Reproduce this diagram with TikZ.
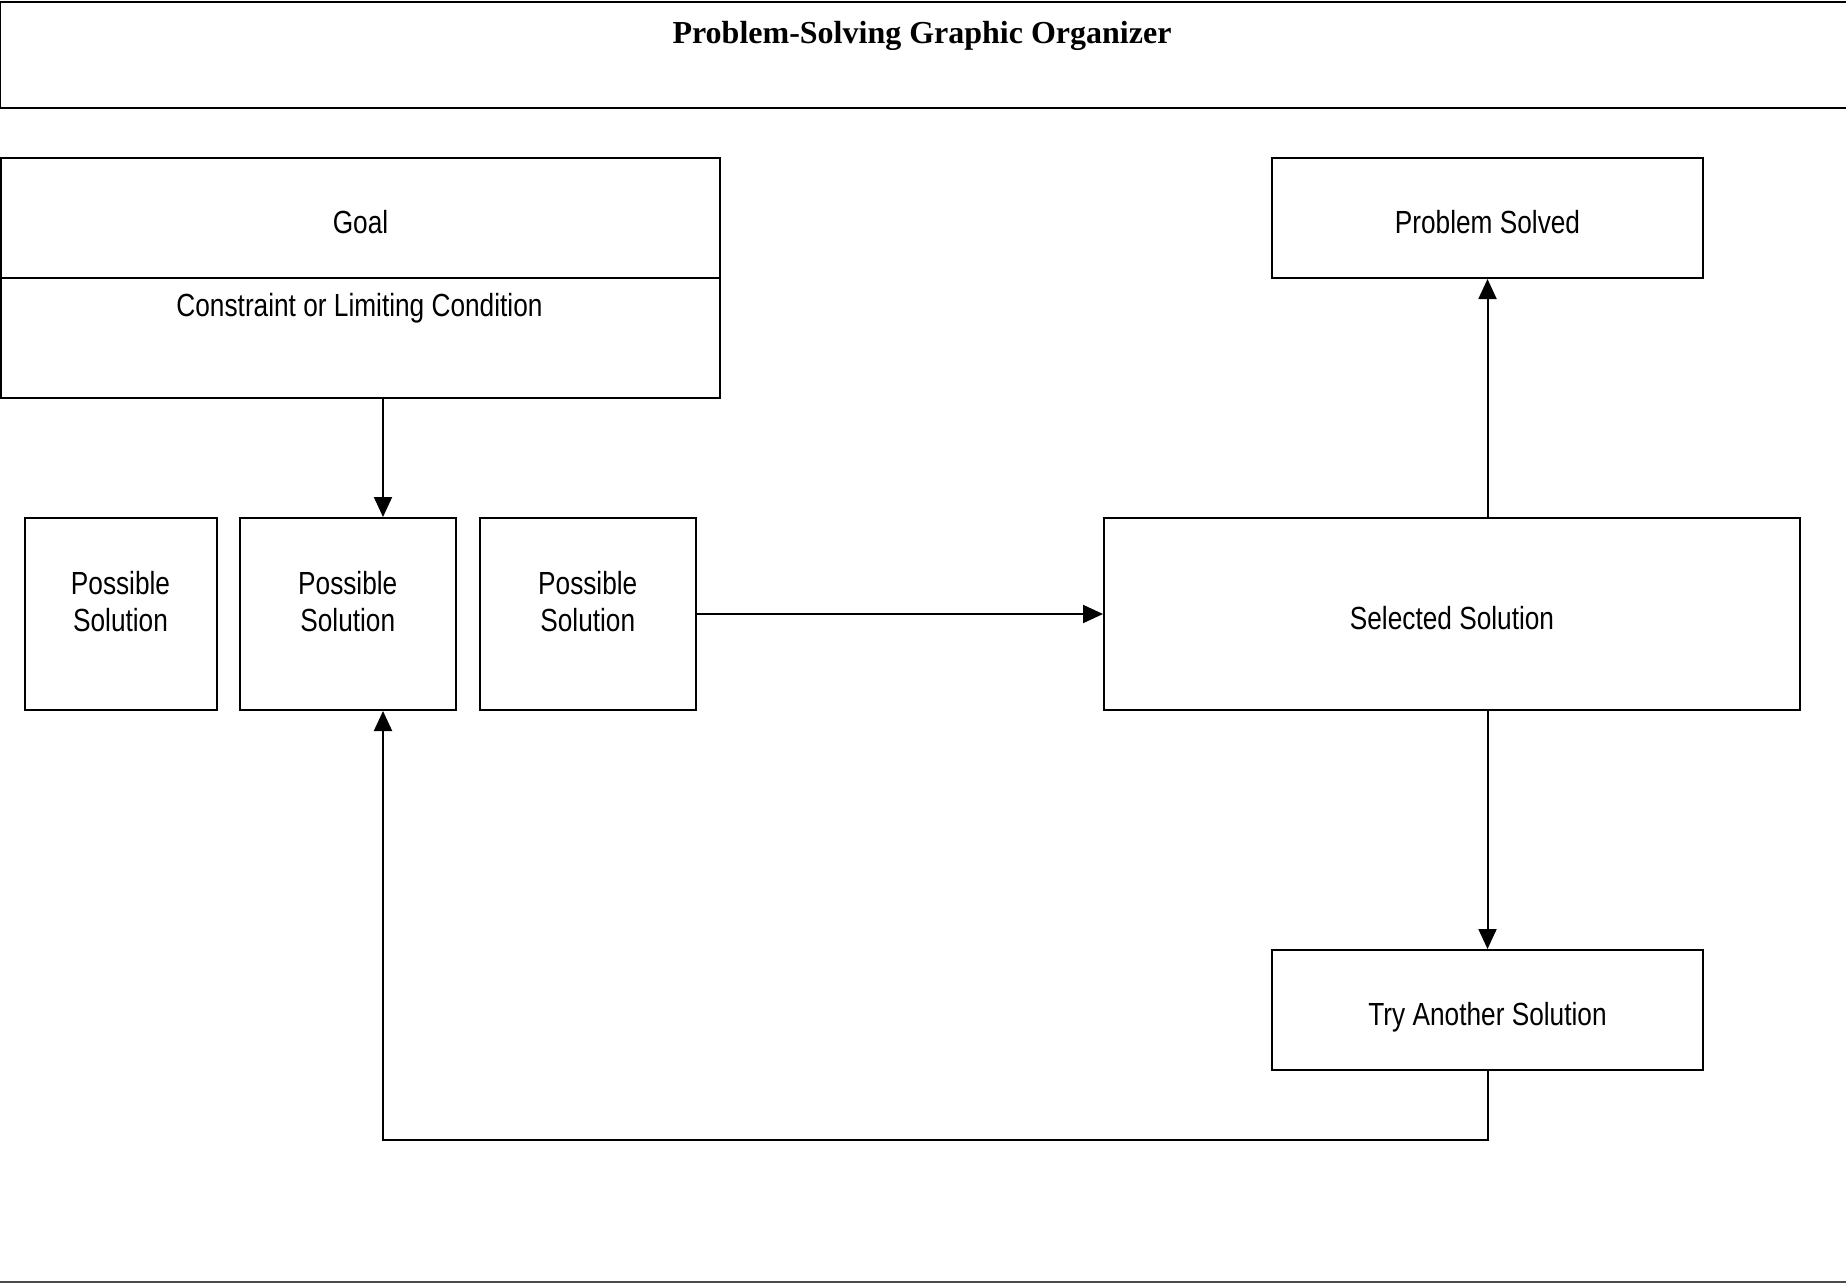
\documentclass[tikz,border=0pt]{standalone}
\usepackage{fontspec}
\setmainfont{Liberation Sans}[FakeStretch=0.82]
\newfontfamily\titlefont{Liberation Serif}
\usetikzlibrary{arrows.meta}

\tikzset{
    box/.style={draw,line width=1pt,inner sep=0pt,anchor=north west,align=center,
        font=\fontsize{16pt}{18.5pt}\selectfont,text height=15.5pt,text depth=0pt},
    twoline/.style={text height=,text depth=13pt},
    arr/.style={line width=1pt,-{Triangle[length=10pt,width=9pt]}},
    conn/.style={line width=1pt}
}

\begin{document}
\begin{tikzpicture}[x=0.5pt,y=-0.5pt]
        \useasboundingbox (0,0) rectangle (1846,1284);

        % title frame
        \draw[conn] (1846,2) -- (0,2) -- (0,108) -- (1846,108);
        \node[font=\titlefont\bfseries\fontsize{16pt}{19pt}\selectfont] (title) at (922,36) {Problem-Solving Graphic Organizer};
        \draw[gray!60!black,line width=1pt] (0,1282) -- (1846,1282);

        % goal and constraint
        \node[box,minimum width=359.5pt,minimum height=60pt] (goal) at (0,157) {Goal};
        \node[box,minimum width=359.5pt,minimum height=60pt] (cons) at (0,277) {};
        \node[font=\fontsize{16pt}{18.5pt}\selectfont] (constext) at (359.5,308) {Constraint or Limiting Condition};

        % possible solutions
        \foreach \x/\w/\n in {23.5/96/1, 239/107.75/2, 479/107.75/3}
            \node[box,twoline,minimum width=\w pt,minimum height=96pt] (ps\n) at (\x,517) {Possible\\Solution};

        \node[box,minimum width=348pt,minimum height=96pt] (sel) at (1103,517) {Selected Solution};
        \node[box,minimum width=215.5pt,minimum height=60pt] (solved) at (1271,157) {Problem Solved};
        \node[box,minimum width=215.5pt,minimum height=60pt] (try) at (1271,949) {Try Another Solution};

        \coordinate (fb) at (383,1140);

        % connectors
        \draw[arr] (cons.south -| fb) -- (ps2.north -| fb);
        \draw[arr] (ps3.east) -- (sel.west);
        \draw[arr] (solved.south |- sel.north) -- (solved.south);
        \draw[arr] (try.north |- sel.south) -- (try.north);
        \draw[arr] (try.south) -- (try.south |- fb) -- (fb) -- (ps2.south -| fb);
    \end{tikzpicture}
\end{document}
